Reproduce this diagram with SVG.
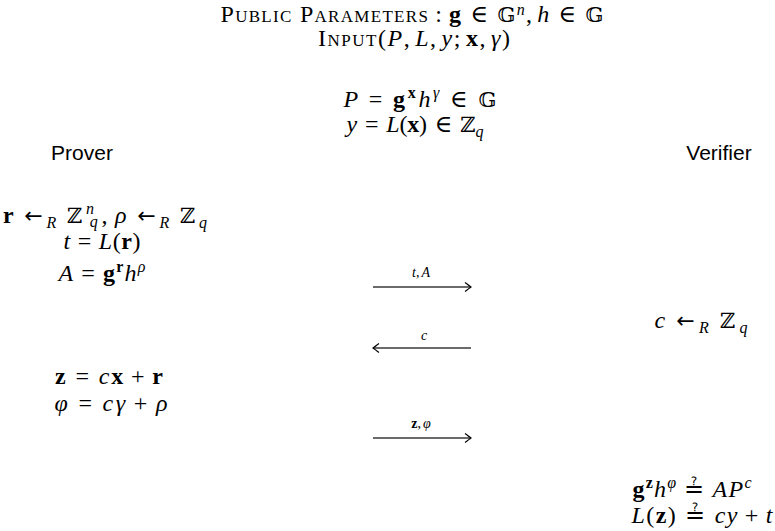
<svg xmlns="http://www.w3.org/2000/svg" width="775" height="531" viewBox="0 0 775 531">
<style>
text{font-family:"Liberation Serif","DejaVu Serif",serif;font-size:24px;fill:#000}
.i{font-style:italic}
.b{font-weight:bold}
.bb{font-family:"DejaVu Serif","DejaVu Sans",serif;font-size:21px}
.ar{font-family:"DejaVu Sans",sans-serif;font-size:22px}
.sc{font-variant:small-caps}
.s{font-size:16px}
.lbl{font-size:14px}
.sans{font-family:"Liberation Sans","DejaVu Sans",sans-serif;font-size:21px}
.arr{stroke:#3a3a3a;stroke-width:1.3;fill:none}
</style>
<defs>
<marker id="head" viewBox="-8 -5 10 10" refX="0" refY="0" markerWidth="10" markerHeight="10" markerUnits="userSpaceOnUse" orient="auto">
<path d="M-6,-4.5 Q-1.5,-1 0,0 Q-1.5,1 -6,4.5" fill="none" stroke="#000" stroke-width="1.1"/>
</marker>
</defs>
<rect width="775" height="531" fill="#fff"/>
<g id="header">
<text x="412" y="22" text-anchor="middle" textLength="383" lengthAdjust="spacing"><tspan class="sc">Public Parameters</tspan><tspan dx="6">:</tspan><tspan dx="6" class="b">g</tspan><tspan dx="8">∈</tspan><tspan dx="8" class="bb">𝔾</tspan><tspan class="i s" dy="-7">n</tspan><tspan dy="7">,</tspan><tspan dx="4" class="i">h</tspan><tspan dx="8">∈</tspan><tspan dx="8" class="bb">𝔾</tspan></text>
<text x="414" y="46" text-anchor="middle" textLength="192" lengthAdjust="spacing"><tspan class="sc">Input</tspan>(<tspan class="i">P</tspan>,<tspan dx="4" class="i">L</tspan>,<tspan dx="4" class="i">y</tspan>;<tspan dx="4" class="b">x</tspan>,<tspan dx="4" class="i">γ</tspan>)</text>
<text x="420" y="107" text-anchor="middle" textLength="153" lengthAdjust="spacing"><tspan class="i">P</tspan><tspan dx="8">=</tspan><tspan dx="8" class="b">g</tspan><tspan class="b s" dy="-9">x</tspan><tspan class="i" dy="9">h</tspan><tspan class="i s" dy="-9">γ</tspan><tspan dx="8" dy="9">∈</tspan><tspan dx="8" class="bb">𝔾</tspan></text>
<text x="415" y="132" text-anchor="middle" textLength="137" lengthAdjust="spacing"><tspan class="i">y</tspan><tspan dx="8">=</tspan><tspan dx="8" class="i">L</tspan>(<tspan class="b">x</tspan>)<tspan dx="8">∈</tspan><tspan dx="8" class="bb">ℤ</tspan><tspan class="i s" dy="5">q</tspan></text>
</g>
<g id="prover">
<text class="sans" x="82" y="160" text-anchor="middle">Prover</text>
<text x="105" y="223" text-anchor="middle" textLength="204" lengthAdjust="spacing"><tspan class="b">r</tspan><tspan dx="7" class="ar">←</tspan><tspan class="i s" dy="5">R</tspan><tspan dx="7" dy="-5" class="bb">ℤ</tspan><tspan class="i s" dy="-9">n</tspan><tspan class="i s" dx="-8" dy="13">q</tspan><tspan dy="-4">,</tspan><tspan dx="4" class="i">ρ</tspan><tspan dx="7" class="ar">←</tspan><tspan class="i s" dy="5">R</tspan><tspan dx="7" dy="-5" class="bb">ℤ</tspan><tspan class="i s" dy="5">q</tspan></text>
<text x="102" y="249" text-anchor="middle" textLength="77" lengthAdjust="spacing"><tspan class="i">t</tspan><tspan dx="7">=</tspan><tspan dx="7" class="i">L</tspan>(<tspan class="b">r</tspan>)</text>
<text x="102" y="281" text-anchor="middle" textLength="87" lengthAdjust="spacing"><tspan class="i">A</tspan><tspan dx="7">=</tspan><tspan dx="7" class="b">g</tspan><tspan class="b s" dy="-9">r</tspan><tspan class="i" dy="9">h</tspan><tspan class="i s" dy="-9">ρ</tspan></text>
<text x="109" y="384" text-anchor="middle" textLength="108" lengthAdjust="spacing"><tspan class="b">z</tspan><tspan dx="8">=</tspan><tspan dx="8" class="i">c</tspan><tspan class="b">x</tspan><tspan dx="6">+</tspan><tspan dx="6" class="b">r</tspan></text>
<text x="111" y="411" text-anchor="middle" textLength="113" lengthAdjust="spacing"><tspan class="i">φ</tspan><tspan dx="8">=</tspan><tspan dx="8" class="i">cγ</tspan><tspan dx="6">+</tspan><tspan dx="6" class="i">ρ</tspan></text>
</g>
<g id="verifier">
<text class="sans" x="719" y="160" text-anchor="middle">Verifier</text>
<text x="701" y="328" text-anchor="middle" textLength="93" lengthAdjust="spacing"><tspan class="i">c</tspan><tspan dx="7" class="ar">←</tspan><tspan class="i s" dy="5">R</tspan><tspan dx="7" dy="-5" class="bb">ℤ</tspan><tspan class="i s" dy="5">q</tspan></text>
<text x="692" y="497" text-anchor="middle" textLength="119" lengthAdjust="spacing"><tspan class="b">g</tspan><tspan class="b s" dy="-9">z</tspan><tspan class="i" dy="9">h</tspan><tspan class="i s" dy="-9">φ</tspan><tspan dx="7" dy="9">≟</tspan><tspan dx="7" class="i">AP</tspan><tspan class="i s" dy="-9">c</tspan></text>
<text x="702" y="523" text-anchor="middle" textLength="141" lengthAdjust="spacing"><tspan class="i">L</tspan>(<tspan class="b">z</tspan>)<tspan dx="8">≟</tspan><tspan dx="8" class="i">cy</tspan><tspan dx="6">+</tspan><tspan dx="6" class="i">t</tspan></text>
</g>
<g id="connectors">
<line class="arr" x1="373" y1="287" x2="471" y2="287" marker-end="url(#head)"/>
<text class="lbl" x="421" y="277" text-anchor="middle"><tspan class="i">t</tspan>,<tspan dx="2" class="i">A</tspan></text>
<line class="arr" x1="471" y1="348" x2="373" y2="348" marker-end="url(#head)"/>
<text class="lbl i" x="424" y="340" text-anchor="middle">c</text>
<line class="arr" x1="373" y1="438" x2="471" y2="438" marker-end="url(#head)"/>
<text class="lbl" x="421" y="428" text-anchor="middle"><tspan class="b">z</tspan>,<tspan dx="2" class="i">φ</tspan></text>
</g>
</svg>
